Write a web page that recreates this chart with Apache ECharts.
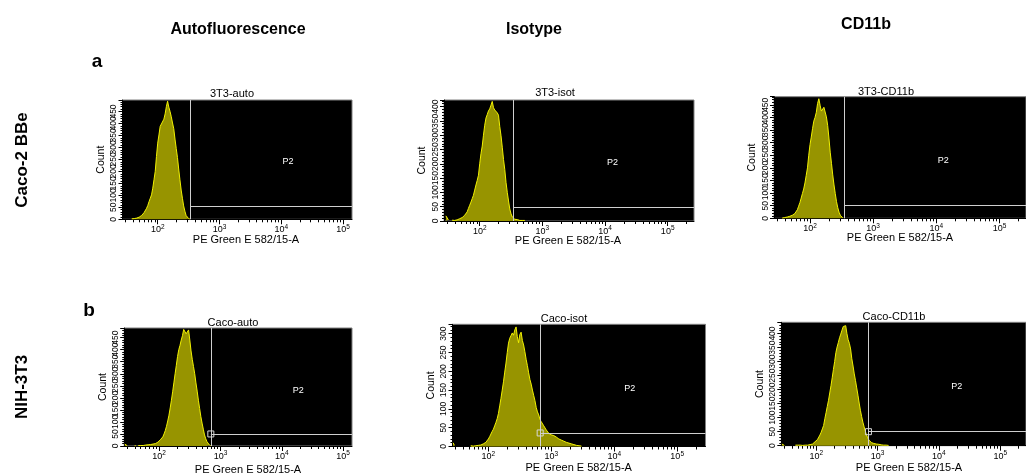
<!DOCTYPE html>
<html><head><meta charset="utf-8">
<script src="https://cdn.jsdelivr.net/npm/echarts@6/dist/echarts.min.js"></script>
<style>html,body{margin:0;padding:0;background:#fff}#c{width:1026px;height:475px}</style>
</head><body><div id="c"></div>
<script>
// log10 fluorescence bin centres (PE Green E 582/15-A)
const bins = [
 1.44,1.46,1.48,1.50,1.52,1.54,1.56,1.58,1.60,1.62,
 1.64,1.66,1.68,1.70,1.72,1.74,1.76,1.78,1.80,1.82,
 1.84,1.86,1.88,1.90,1.92,1.94,1.96,1.98,2.00,2.02,
 2.04,2.06,2.08,2.10,2.12,2.14,2.16,2.18,2.20,2.22,
 2.24,2.26,2.28,2.30,2.32,2.34,2.36,2.38,2.40,2.42,
 2.44,2.46,2.48,2.50,2.52,2.54,2.56,2.58,2.60,2.62,
 2.64,2.66,2.68,2.70,2.72,2.74,2.76,2.78,2.80,2.82,
 2.84,2.86,2.88,2.90,2.92,2.94,2.96,2.98,3.00,3.02,
 3.04,3.06,3.08,3.10,3.12,3.14,3.16,3.18,3.20,3.22,
 3.24,3.26,3.28,3.30,3.32,3.34,3.36,3.38,3.40,3.42,
 3.44,3.46,3.48,3.50];

const counts3T3Auto = [
 0,0,0,0,0,1,0,2,2,3,
 4,5,7,9,12,16,22,28,36,46,
 58,74,88,102,130,165,200,262,318,352,
 388,398,396,418,440,470,493,468,450,428,
 402,378,335,296,258,210,165,122,88,56,
 34,16,8,3,1,0];
const counts3T3Isot = [
 0,18,22,4,0,0,3,6,2,5,
 4,6,8,9,12,16,20,26,32,44,
 55,66,78,90,108,126,142,160,200,235,
 262,300,335,360,372,385,392,405,418,396,
 388,382,378,370,330,298,258,215,180,135,
 100,70,42,25,14,8,6,4,5,3,
 2,4,2,1,2,0];
const counts3T3CD11b = [
 0,0,0,0,0,0,1,2,3,4,
 5,6,8,10,12,15,19,24,34,48,
 62,80,98,116,140,170,200,250,292,322,
 355,385,400,420,455,474,448,425,430,440,
 436,402,368,318,262,218,172,132,98,66,
 42,24,12,5,2,0];
const countsCacoAuto = [
 8,3,1,0,1,0,1,0,1,1,
 0,2,1,2,3,2,3,4,4,5,
 5,6,7,8,9,10,12,16,20,26,
 32,38,50,64,82,104,128,158,190,225,
 262,300,335,372,400,418,440,458,484,478,
 466,472,482,440,395,360,330,300,262,228,
 190,156,122,95,70,46,30,18,10,4,
 1,0];
const countsCacoIsot = [
 10,3,0,0,0,1,0,0,1,0,
 0,0,1,0,2,3,1,4,2,4,
 3,5,4,6,7,9,11,15,20,26,
 33,40,46,55,64,74,88,108,128,150,
 172,198,222,250,275,288,295,302,296,310,
 318,292,276,298,304,282,270,252,232,215,
 196,178,166,150,136,122,104,92,84,72,
 66,62,55,53,44,40,35,36,31,30,
 29,25,25,21,20,17,17,14,14,11,
 11,10,9,8,7,6,5,4,3,2,
 2,1,1,0];
const countsCacoCD11b = [
 6,3,1,0,0,0,0,0,0,1,
 0,2,1,2,1,2,2,1,2,2,
 3,2,3,4,5,6,10,14,18,22,
 28,38,48,60,72,96,118,140,162,188,
 214,242,272,300,332,352,368,385,398,412,
 425,430,428,400,378,365,345,310,284,256,
 232,206,180,152,126,104,84,68,52,38,
 28,20,15,11,9,8,7,6,5,5,
 4,3,3,2,2,2,1,1,0];

const panelTitles = ['3T3-auto','3T3-isot','3T3-CD11b','Caco-auto','Caco-isot','Caco-CD11b'];
const columnHeaders = ['Autofluorescence','Isotype','CD11b'];
const rowLabels = ['Caco-2 BBe','NIH-3T3'];
const panelLetters = ['a','b'];
const xAxisName = 'PE Green E 582/15-A';
const yAxisName = 'Count';
const gateName = 'P2';
const majorExponents = [2,3,4,5];
const minorMultipliers = [2,3,4,5,6,7,8,9];
const xMin = 1.43;
const xMax = [5.146, 5.42, 5.42, 5.145, 5.45, 5.42];
const yMax = [498, 423, 482, 490, 325, 440];
const gateX = [2.535, 2.536, 2.54, 2.843, 2.823, 2.851];
const gateY = [53, 47, 50, 50, 36, 50];
const gateLabelPos = [[4.11,241],[4.12,206],[4.11,231],[4.27,230],[4.245,154],[4.29,211]];

const countsList = [counts3T3Auto, counts3T3Isot, counts3T3CD11b, countsCacoAuto, countsCacoIsot, countsCacoCD11b];

// layout
const FONT = '"Liberation Sans", Arial, Helvetica, sans-serif';
const gridBox = [
 {left:122.5, top:100, width:229.5, height:119.3},
 {left:444, top:100, width:250, height:121},
 {left:774, top:96.7, width:252, height:121.6},
 {left:124.2, top:328, width:227.8, height:118},
 {left:452.5, top:324.3, width:253, height:122.2},
 {left:781.3, top:322.3, width:251.8, height:123.4}
];
const titlePos = [[232,94.3],[555,93.3],[886,91.7],[233,323.3],[564,319.3],[894,316.7]];
const xNamePos = [[246,240],[568,240.7],[900,238.3],[248,470],[578.7,468.3],[909,468.3]];
const headerPos = [[238,30],[534,30],[866,25]];
const rowLabelPos = [[22,160],[22,387]];
const letterPos = [[97,62],[89,311]];

const minorTicks = [];
for (let e = 1; e <= 5; e++) for (const m of minorMultipliers) minorTicks.push(e + Math.log10(m));

const grids = [], xAxes = [], yAxes = [], series = [];
countsList.forEach((counts, i) => {
  const g = gridBox[i];
  grids.push({left:g.left, top:g.top, width:g.width, height:g.height, show:true,
    backgroundColor:'#000', borderColor:'#808080', borderWidth:1});
  xAxes.push({gridIndex:i, type:'value', position:'bottom', min:xMin, max:xMax[i],
    axisLine:{show:true, onZero:false, lineStyle:{color:'#000'}},
    splitLine:{show:false},
    axisTick:{show:true, customValues:majorExponents, length:5, lineStyle:{color:'#000'}},
    axisLabel:{show:true, customValues:majorExponents, margin:4,
      formatter: v => '{b|10}{s|' + Math.round(v) + '}',
      rich:{b:{fontSize:9, fontFamily:FONT, color:'#000'},
            s:{fontSize:6.5, fontFamily:FONT, color:'#000', padding:[0,0,6,0]}}}
  });
  xAxes.push({gridIndex:i, type:'value', position:'bottom', min:xMin, max:xMax[i],
    axisLine:{show:false, onZero:false}, splitLine:{show:false}, axisLabel:{show:false},
    axisTick:{show:true, customValues:minorTicks, length:3, lineStyle:{color:'#000'}}
  });
  yAxes.push({gridIndex:i, type:'value', min:0, max:yMax[i], interval:50,
    axisLine:{show:true, lineStyle:{color:'#000'}},
    axisTick:{show:true, length:4, lineStyle:{color:'#000'}},
    minorTick:{show:true, splitNumber:5, length:2, lineStyle:{color:'#000'}},
    splitLine:{show:false}, minorSplitLine:{show:false},
    axisLabel:{rotate:90, fontSize:8.5, fontFamily:FONT, color:'#000', margin:4, showMaxLabel:false},
    name:yAxisName, nameLocation:'middle', nameGap:16,
    nameTextStyle:{fontSize:10.5, fontFamily:FONT, color:'#000'}
  });
  const mpData = [{coord:gateLabelPos[i], symbol:'rect', symbolSize:1,
      itemStyle:{color:'rgba(0,0,0,0)'},
      label:{show:true, position:'inside', formatter:gateName, color:'#fff', fontSize:9, fontFamily:FONT}}];
  if (i >= 3) mpData.push({coord:[gateX[i], gateY[i]], symbol:'rect', symbolSize:6,
      itemStyle:{color:'rgba(0,0,0,0)', borderColor:'#d8d8d8', borderWidth:1}, label:{show:false}});
  series.push({type:'line', xAxisIndex:2*i, yAxisIndex:i, animation:false,
    data: counts.map((c, j) => [bins[j], c === 0 ? null : c]),
    showSymbol:false, symbol:'none', clip:true,
    lineStyle:{color:'#f2f200', width:1},
    areaStyle:{color:'#979400', opacity:1},
    markLine:{silent:true, animation:false, symbol:['none','none'], label:{show:false},
      lineStyle:{color:'#cfcfcf', width:1, type:'solid'},
      emphasis:{disabled:true},
      data:[[{coord:[gateX[i],0]},{coord:[gateX[i],yMax[i]]}],
            [{coord:[gateX[i],gateY[i]]},{coord:[xMax[i],gateY[i]]}]]},
    markPoint:{silent:true, animation:false, data:mpData}
  });
});

const graphics = [];
const txt = (x, y, text, size, weight, rot) => ({type:'text', x, y, rotation: rot || 0, z:100,
  style:{text, fill:'#000', fontSize:size, fontFamily:FONT, fontWeight:weight || 'normal',
    align:'center', verticalAlign:'middle', textAlign:'center', textVerticalAlign:'middle'}});
panelTitles.forEach((t, i) => graphics.push(txt(titlePos[i][0], titlePos[i][1], t, 11)));
panelTitles.forEach((t, i) => graphics.push(txt(xNamePos[i][0], xNamePos[i][1], xAxisName, 11)));
columnHeaders.forEach((t, i) => graphics.push(txt(headerPos[i][0], headerPos[i][1], t, 16, 'bold')));
rowLabels.forEach((t, i) => graphics.push(txt(rowLabelPos[i][0], rowLabelPos[i][1], t, 17, 'bold', Math.PI/2)));
panelLetters.forEach((t, i) => graphics.push(txt(letterPos[i][0], letterPos[i][1], t, 19, 'bold')));

const chart = echarts.init(document.getElementById('c'), null, {renderer:'canvas'});
chart.setOption({animation:false, backgroundColor:'#fff', grid:grids, xAxis:xAxes, yAxis:yAxes, series, graphic:graphics});
</script></body></html>
